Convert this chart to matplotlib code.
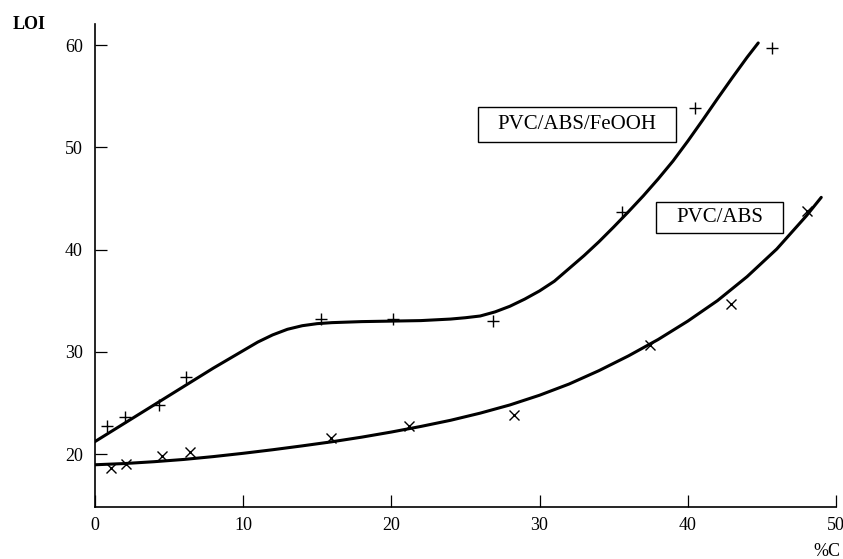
import matplotlib
matplotlib.use("Agg")
import matplotlib.pyplot as plt
from matplotlib.patches import Rectangle

plt.rcParams['font.family'] = ['Liberation Serif', 'DejaVu Serif']

# measured points
feooh_x = [0.85, 2.04, 4.34, 6.16, 15.24, 20.09, 26.84, 35.54, 40.48, 45.65]
feooh_y = [22.7, 23.65, 24.8, 27.5, 33.2, 33.2, 33.05, 43.65, 53.8, 59.7]
abs_x = [1.08, 2.09, 4.52, 6.43, 15.91, 21.21, 28.27, 37.44, 42.89, 48.01]
abs_y = [18.66, 18.99, 19.8, 20.17, 21.56, 22.77, 23.81, 30.66, 34.67, 43.79]

# fitted curves
feooh_fit_x = [0, 2, 4, 6, 8, 10, 11, 12, 13, 14, 15, 16, 18, 20, 22, 24, 25, 26,
               27, 28, 29, 30, 31, 32, 33, 34, 35, 36, 37, 38, 39, 40, 41, 42,
               43, 44, 44.75]
feooh_fit_y = [21.2, 23.0, 24.8, 26.6, 28.4, 30.1, 30.95, 31.65, 32.2, 32.55,
               32.75, 32.85, 32.95, 33.0, 33.05, 33.2, 33.33, 33.5, 33.9, 34.45,
               35.15, 35.95, 36.9, 38.15, 39.4, 40.75, 42.2, 43.7, 45.25, 46.9,
               48.65, 50.6, 52.65, 54.75, 56.8, 58.8, 60.2]
abs_fit_x = [0, 2, 4, 6, 8, 10, 12, 14, 16, 18, 20, 22, 24, 26, 28, 30, 32, 34,
             36, 38, 40, 42, 44, 46, 48, 49]
abs_fit_y = [18.95, 19.07, 19.25, 19.47, 19.75, 20.07, 20.42, 20.8, 21.2, 21.65,
             22.15, 22.7, 23.3, 24.0, 24.8, 25.75, 26.85, 28.15, 29.6, 31.2,
             33.0, 35.0, 37.35, 40.05, 43.3, 45.1]

xticks = [0, 10, 20, 30, 40, 50]
yticks = [20, 30, 40, 50, 60]

fig = plt.figure(figsize=(8.43, 5.59), dpi=100)
ax = fig.add_axes([0.1123, 0.093, 0.8795, 0.864])

ax.plot(feooh_fit_x, feooh_fit_y, color='black', lw=2.2,
        solid_capstyle='round', solid_joinstyle='round')
ax.plot(abs_fit_x, abs_fit_y, color='black', lw=2.2,
        solid_capstyle='round', solid_joinstyle='round')
ax.plot(feooh_x, feooh_y, ls='none', marker='+', ms=9, mew=1.0, color='black')
ax.plot(abs_x, abs_y, ls='none', marker='x', ms=6.5, mew=1.0, color='black')

ax.set_xlim(0, 50)
ax.set_ylim(14.82, 62.05)
ax.set_xticks(xticks)
ax.set_yticks(yticks)
ax.tick_params(direction='in', length=8.5, width=0.9, labelsize=13, pad=7)
ax.tick_params(axis='y', pad=8.5)
for s in ['top', 'right']:
    ax.spines[s].set_visible(False)
for s in ['left', 'bottom']:
    ax.spines[s].set_linewidth(1.2)

# label boxes
ax.add_patch(Rectangle((25.83, 50.54), 13.37, 3.37, fill=False, lw=1.0, ec='black'))
ax.text(32.5, 52.2, 'PVC/ABS/FeOOH', fontsize=15, ha='center', va='center')
ax.add_patch(Rectangle((37.85, 41.58), 8.58, 3.09, fill=False, lw=1.0, ec='black'))
ax.text(42.14, 43.1, 'PVC/ABS', fontsize=15, ha='center', va='center')

fig.text(0.0154, 0.956, 'LOI', fontsize=13, fontweight='bold', ha='left', va='center')
fig.text(0.9645, 0.006, '%C', fontsize=13, ha='left', va='baseline')

fig.savefig('out.png', dpi=100, facecolor='white')
